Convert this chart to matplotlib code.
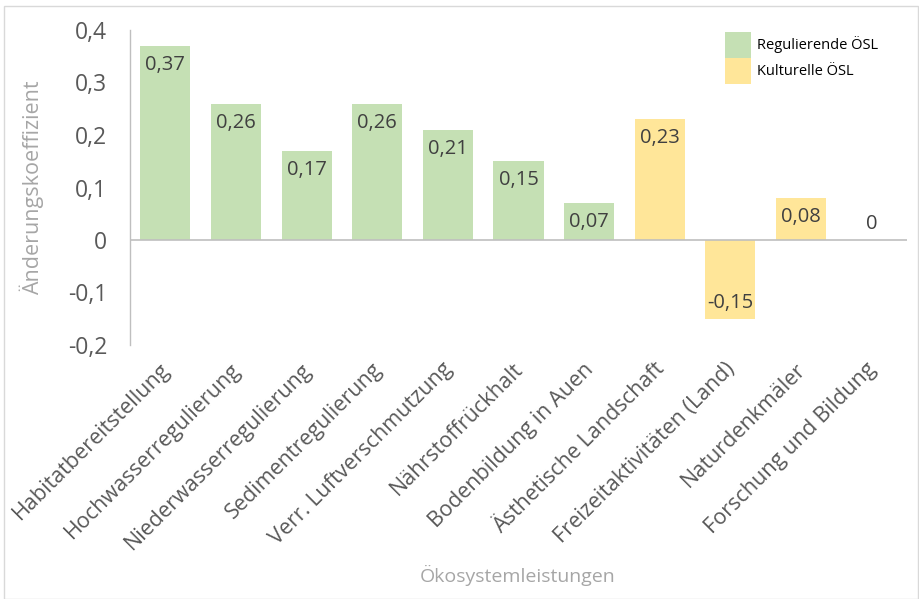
import matplotlib
matplotlib.use("Agg")
import matplotlib.pyplot as plt
from matplotlib.patches import Patch, Rectangle

plt.rcParams['font.family'] = ['Open Sans', 'DejaVu Sans']

categories = ["Habitatbereitstellung", "Hochwasserregulierung", "Niederwasserregulierung",
              "Sedimentregulierung", "Verr. Luftverschmutzung", "Nährstoffrückhalt",
              "Bodenbildung in Auen", "Ästhetische Landschaft", "Freizeitaktivitäten (Land)",
              "Naturdenkmäler", "Forschung und Bildung"]
values = [0.37, 0.26, 0.17, 0.26, 0.21, 0.15, 0.07, 0.23, -0.15, 0.08, 0.0]
groups = ["Regulierende ÖSL"] * 7 + ["Kulturelle ÖSL"] * 4
group_colors = {"Regulierende ÖSL": "#C5E0B4", "Kulturelle ÖSL": "#FFE699"}
yticks = [-0.2, -0.1, 0.0, 0.1, 0.2, 0.3, 0.4]

def fmt(v):
    if v == 0:
        return "0"
    return f"{v:.2f}".replace(".", ",") if round(v, 2) != round(v, 1) else f"{v:.1f}".replace(".", ",")

fig = plt.figure(figsize=(9.19, 5.99), dpi=100)
ax = fig.add_axes([130/919, 1-345/599, (907-130)/919, 315/599])

x = list(range(len(categories)))
colors = [group_colors[g] for g in groups]
ax.bar(x, values, width=0.71, color=colors, zorder=2)

lab_fs = 14.5
for xi, v in zip(x, values):
    if v > 0:
        ax.annotate(fmt(v), (xi, v), xytext=(0, -6.5), textcoords='offset points',
                    ha='center', va='top', fontsize=lab_fs, color='#404040')
    elif v < 0:
        ax.annotate(fmt(v), (xi, v), xytext=(0, 4), textcoords='offset points',
                    ha='center', va='bottom', fontsize=lab_fs, color='#404040')
    else:
        ax.annotate(fmt(v), (xi, v), xytext=(0, 4.5), textcoords='offset points',
                    ha='center', va='bottom', fontsize=lab_fs, color='#404040')

ax.set_xlim(-0.5, len(categories) - 0.5)
ax.set_ylim(-0.2, 0.4)
ax.set_yticks(yticks)
ax.set_yticklabels([fmt(t) for t in yticks], fontsize=16.5, color='#595959')
ax.axhline(0, color='#BFBFBF', linewidth=1.2, zorder=3)

# tick labels nudged slightly left (ticks themselves are invisible)
label_nudge = 0.085
ax.set_xticks([xi - label_nudge for xi in x])
ax.set_xticklabels(categories, rotation=45, ha='right', rotation_mode='anchor',
                   fontsize=15.5, color='#595959')
ax.tick_params(axis='x', length=0, pad=10)
ax.tick_params(axis='y', length=0, pad=16.5)

for s in ['top', 'right', 'bottom']:
    ax.spines[s].set_visible(False)
ax.spines['left'].set_color('#BFBFBF')
ax.spines['left'].set_linewidth(1.0)

ax.set_ylabel("Änderungskoeffizient", fontsize=15.5, color='#A6A6A6')
ax.yaxis.set_label_coords((44-130)/777, 0.5)
fig.text(518/919, 1-575/599, "Ökosystemleistungen", ha='center', va='center',
         fontsize=14, color='#A6A6A6')

handles = [Patch(facecolor=group_colors[g], edgecolor='none') for g in group_colors]
leg = ax.legend(handles, list(group_colors.keys()), loc='upper left',
                bbox_to_anchor=(719/919, 1-26/599), bbox_transform=fig.transFigure,
                frameon=False, fontsize=10.5, handlelength=1.78, handleheight=2.36,
                handletextpad=0.45, labelspacing=0.0, borderaxespad=0)

fig.patches.append(Rectangle((4/919, 0.0), 1 - 4/919 - 1/919, 1 - 6/599, transform=fig.transFigure,
                             fill=False, edgecolor='#D9D9D9', linewidth=1.0))

fig.savefig("out.png", dpi=100, facecolor='white')
